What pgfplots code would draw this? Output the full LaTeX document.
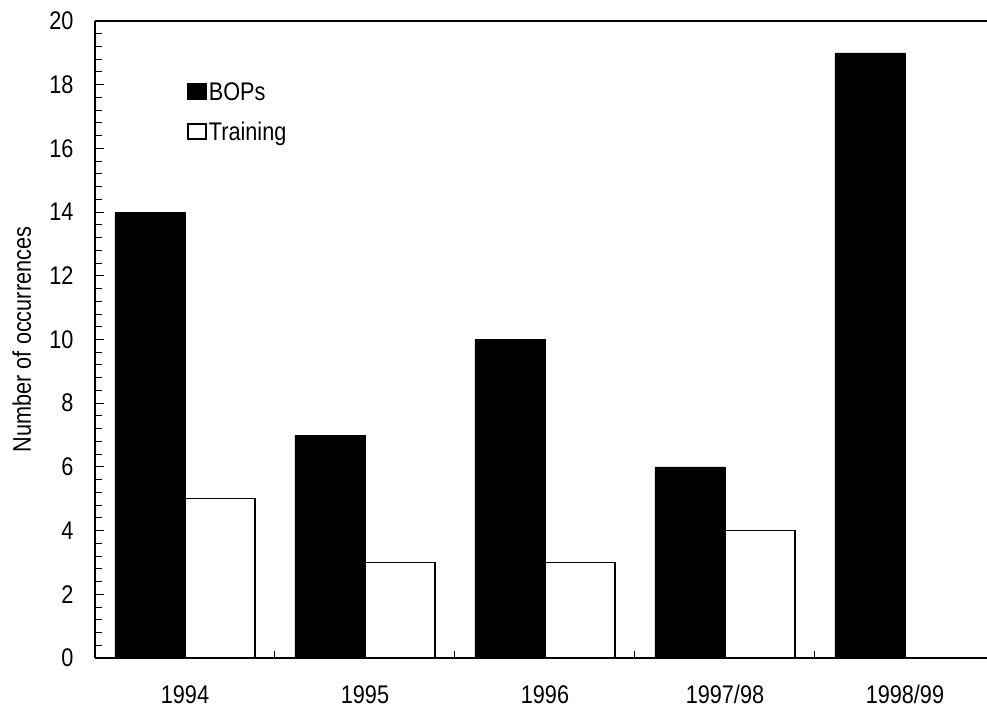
\documentclass[border=0pt]{standalone}
\usepackage{fontspec}
\setmainfont{Liberation Sans}[FakeStretch=0.85]
\usepackage{pgfplots}
\pgfplotsset{compat=1.18}

\newcommand{\chartfont}{\fontsize{25.5bp}{30bp}\selectfont}

\begin{document}
\begin{tikzpicture}
\begin{axis}[
    scale only axis,
    width=892bp, height=637bp,
    ybar=0pt, bar width=70bp,
    xmin=-0.5, xmax=4.456,
    ymin=0, ymax=20,
    axis x line=box, axis y line=left,
    axis line style={-, line width=1.6bp},
    xtick={0,1,2,3,4},
    xticklabels={1994,1995,1996,1997/98,1998/99},
    minor xtick={0.5,1.5,2.5,3.5},
    xtick pos=left, ytick pos=left,
    tick align=inside,
    major tick length=9bp, minor tick length=7bp,
    major x tick style={draw=none},
    tick style={line width=1bp, black},
    ytick={0,2,...,20},
    minor y tick num=4,
    tick label style={font=\chartfont},
    xticklabel style={inner sep=0pt, yshift=-27bp},
    yticklabel style={xshift=-18bp},
    /pgf/number format/assume math mode=true,
    ylabel={Number of occurrences},
    every axis y label/.style={at={(axis description cs:-0.082,0.5)}, rotate=90, anchor=center, font=\chartfont},
    legend style={draw=none, fill=none, at={(axis description cs:0.1,0.91)}, anchor=north west,
        row sep=16bp, nodes={inner sep=2bp}, font=\chartfont},
    legend cell align=left,
    legend image code/.code={\draw[#1, line width=1.5bp] (0bp,-7bp) rectangle (18bp,8bp);},
]
\addplot[fill=black, draw=black] coordinates {(0,14) (1,7) (2,10) (3,6) (4,19)};
\addlegendentry{BOPs}
\addplot[fill=white, draw=black, line width=1.5bp] coordinates {(0,5) (1,3) (2,3) (3,4)};
\addlegendentry{Training}
\end{axis}
\pgfresetboundingbox
\path[use as bounding box] ([shift={(-95bp,-51bp)}]current axis.south west) rectangle ([shift={(0bp,21bp)}]current axis.north east);
\end{tikzpicture}
\end{document}
